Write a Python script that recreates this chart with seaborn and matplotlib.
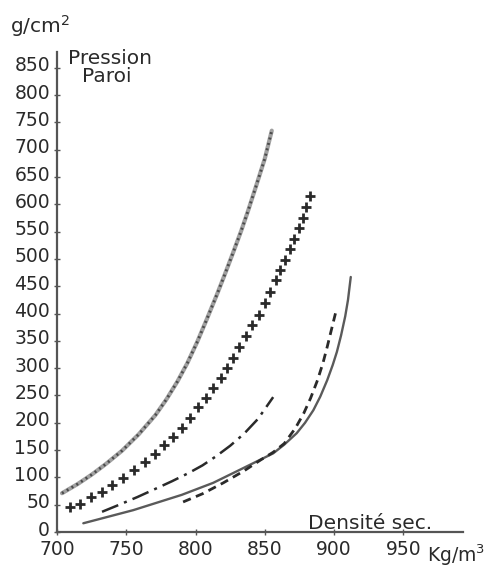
import matplotlib
matplotlib.use("Agg")
import matplotlib.pyplot as plt
import matplotlib.transforms as mtrans
import seaborn as sns
import pandas as pd

# Dry density (kg/m3) vs wall pressure (g/cm2), five measured series
dens_a = [703.6, 715, 725, 735, 747, 759, 771, 779, 787, 794, 801, 808,
          815.6, 821, 827, 833, 838, 844, 850, 855]
pres_a = [71, 88, 105, 124, 149, 179, 214, 243, 276, 309, 347, 389,
          436, 471, 511, 552, 589, 636, 684, 735]

dens_b = [709.4, 716.6, 724.6, 732.5, 739.7, 747.7, 755.6, 763.6, 770.8, 777.3,
          783.8, 790.3, 796.1, 802.1, 807.7, 812.9, 818.3, 822.6, 826.9, 831.7,
          836.6, 840.7, 845.5, 850.3, 853.9, 858.2, 861.1, 864.2, 867.8, 870.7,
          874.3, 877.2, 879.9, 882.8]
pres_b = [46, 51, 64, 73, 86, 99, 114, 128, 143, 159,
          174, 190, 208, 228, 245, 263, 282, 300, 318, 338,
          359, 379, 398, 420, 440, 462, 480, 498, 518, 536,
          556, 575, 595, 615]

dens_c = [732.5, 745, 758, 771, 783, 795, 805, 815, 825, 835, 845, 856]
pres_c = [37, 50, 64, 79, 93, 108, 122, 139, 158, 180, 207, 247]

dens_d = [719, 755, 790, 812.7, 832, 856, 864, 873, 879, 885, 890, 895,
          899, 902, 905, 908, 910, 912]
pres_d = [16, 40, 68, 90, 114, 144, 160, 181, 200, 223, 248, 278,
          306, 330, 360, 395, 425, 467]

dens_e = [791, 805, 820, 835, 847, 856, 864, 872, 878, 883, 888, 892,
          895, 898, 901.6]
pres_e = [55, 70, 90, 112, 132, 146, 162, 190, 217, 245, 278, 310,
          339, 370, 407]

x_ticks = [700, 750, 800, 850, 900, 950]
y_ticks = list(range(0, 900, 50))

sns.set_theme(style="white")
plt.rcParams["font.family"] = ["DejaVu Sans"]
ink = "#2a2a2a"

fig = plt.figure(figsize=(4.89, 5.67), dpi=100)
ax = fig.add_axes([57 / 489, 1 - 532 / 567, (463 - 57) / 489, (532 - 52) / 567])

df_a = pd.DataFrame({"d": dens_a, "p": pres_a})
df_b = pd.DataFrame({"d": dens_b, "p": pres_b})
df_c = pd.DataFrame({"d": dens_c, "p": pres_c})
df_d = pd.DataFrame({"d": dens_d, "p": pres_d})
df_e = pd.DataFrame({"d": dens_e, "p": pres_e})

# beaded curve: grey stroke with dark dots on top
sns.lineplot(data=df_a, x="d", y="p", ax=ax, color="#a0a0a0", lw=3.0, sort=False)
sns.lineplot(data=df_a, x="d", y="p", ax=ax, color="#4a4a4a", lw=2.0,
             linestyle=(0, (0.7, 1.3)), sort=False)
# crosses
sns.lineplot(data=df_b, x="d", y="p", ax=ax, color=ink, lw=0, marker="+",
             markersize=7.5, markeredgewidth=2.0, markeredgecolor=ink, sort=False)
# dash-dot
sns.lineplot(data=df_c, x="d", y="p", ax=ax, color=ink, lw=1.8,
             linestyle=(0, (7, 2.5, 1.2, 2.5)), sort=False)
# solid
sns.lineplot(data=df_d, x="d", y="p", ax=ax, color="#5a5a5a", lw=1.7, sort=False)
# dashed
sns.lineplot(data=df_e, x="d", y="p", ax=ax, color=ink, lw=2.0,
             linestyle=(0, (3, 2)), sort=False)

ax.set_xlim(700, 993)
ax.set_ylim(0, 879)
ax.set_xticks(x_ticks)
ax.set_yticks(y_ticks)
ax.set_xlabel("")
ax.set_ylabel("")
sns.despine(ax=ax)
for s in ("left", "bottom"):
    ax.spines[s].set_color("#555555")
    ax.spines[s].set_linewidth(1.6)
ax.tick_params(axis="both", direction="inout", length=4, width=1, color="#555555",
               colors=ink, left=True, bottom=True)
ax.tick_params(axis="y", labelsize=13.5, pad=3)
ax.tick_params(axis="x", labelsize=13.5, pad=4)

# the hand-lettered values sit a little above their ticks
lift = mtrans.ScaledTranslation(0, 4 / 100, fig.dpi_scale_trans)
for lab in ax.get_yticklabels():
    lab.set_transform(lab.get_transform() + lift)

fig.text(10 / 489, 1 - 33 / 567, "g/cm$^2$", fontsize=14.5, color=ink, va="baseline")
fig.text(68 / 489, 1 - 64 / 567, "Pression", fontsize=14.5, color=ink, va="baseline")
fig.text(82 / 489, 1 - 82 / 567, "Paroi", fontsize=14.5, color=ink, va="baseline")
fig.text(308 / 489, 1 - 529 / 567, "Densité sec.", fontsize=14.5, color=ink, va="baseline")
fig.text(427 / 489, 1 - 562 / 567, "Kg/m$^3$", fontsize=13.5, color=ink, va="baseline")

fig.savefig("out.png", dpi=100, facecolor="white")
